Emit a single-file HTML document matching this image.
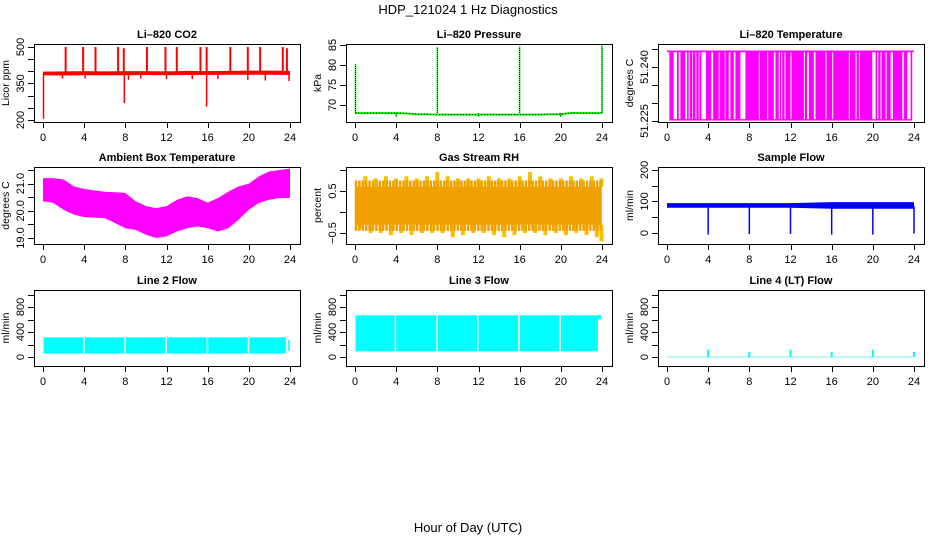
<!DOCTYPE html>
<html><head><meta charset="utf-8"><style>
html,body{margin:0;padding:0;background:#fff;}
svg{display:block;font-family:"Liberation Sans",sans-serif;}
</style></head><body>
<svg id="fig" width="936" height="540" viewBox="0 0 936 540" xmlns="http://www.w3.org/2000/svg">
<rect width="936" height="540" fill="#fff"/>
<text x="468" y="14" font-size="13" text-anchor="middle">HDP_121024  1 Hz Diagnostics</text>
<text x="468" y="532" font-size="13" text-anchor="middle">Hour of Day (UTC)</text>
</svg>
<script>
// ---------- data ----------
const xTicks = [0,4,8,12,16,20,24];
// CO2
const co2BaseT = [0,2,4,6,8,10,12,14,16,18,20,22,24];
const co2BaseLo = [384,383,384,384,384,385,384,385,385,386,386,386,385];
const co2BaseHi = [399,400,401,400,401,401,400,402,401,402,403,403,402];
const co2UpT = [2.2,3.9,5.1,7.3,7.85,10.1,11.9,13.0,15.3,15.9,18.2,19.9,21.1,23.3,23.7];
const co2UpV = [500,500,500,500,495,500,500,500,500,500,500,500,500,500,495];
const co2DnT = [0.05,7.9,15.9,1.9,4.1,8.3,9.5,12.0,14.5,17.0,19.9,21.6,23.9];
const co2DnV = [205,270,255,370,370,365,370,368,368,368,365,362,360];
// Pressure
const presT = [0,1,2,3,4,5,6,7,8,9,10,11,12,13,14,15,16,17,18,19,20,21,22,23,24];
const presV = [68,68,68,68,68,67.9,67.7,67.7,67.6,67.6,67.6,67.6,67.6,67.6,67.6,67.6,67.6,67.6,67.6,67.7,67.7,68,68,68,68];
const presSpT = [0.05,8.0,16.0,24.0,4.0,12.0,20.0];
const presSpV = [80.2,84.5,84.6,84.8,67.0,67.0,67.0];
// Li-820 temperature
const ltHi = 51.2444, ltLo = 51.2251;
const ltStart = 0.23, ltEnd = 23.83;
const ltGapStart = [0.65,1.14,1.78,2.11,2.43,2.76,3.08,3.34,4.31,5.03,5.61,6.0,6.49,7.13,8.92,9.73,10.38,10.86,11.09,11.42,12.0,13.3,13.62,14.27,15.4,16.05,17.67,18.32,18.65,19.94,20.43,20.75,21.24,21.73,22.86,23.35];
const ltGapEnd   = [0.97,1.30,1.95,2.21,2.50,2.85,3.15,3.79,4.48,5.12,5.68,6.16,6.65,7.62,9.02,9.83,10.54,10.96,11.19,11.51,12.1,13.4,13.78,14.43,15.5,16.15,17.77,18.42,18.74,20.27,20.53,20.85,21.34,21.95,23.03,23.67];
// Ambient box temperature
const ambT = [0,1,2,3,4,5,6,7,8,9,10,11,12,13,14,15,16,17,18,19,20,21,22,23,24];
const ambHi = [21.2,21.2,21.15,20.9,20.8,20.75,20.7,20.68,20.66,20.35,20.17,20.1,20.17,20.4,20.53,20.47,20.3,20.47,20.7,20.9,21.0,21.27,21.45,21.5,21.55];
const ambLo = [20.35,20.29,20.04,19.86,19.77,19.75,19.73,19.55,19.36,19.3,19.12,19.0,19.06,19.24,19.36,19.43,19.36,19.24,19.36,19.67,20.04,20.29,20.41,20.47,20.47];
// Gas stream RH
const rhT = [0,1,2,3,4,5,6,7,8,9,10,11,12,13,14,15,16,17,18,19,20,21,22,23,24];
const rhHi = [0.6,0.85,0.8,0.85,0.8,0.85,0.8,0.85,0.95,0.85,0.8,0.8,0.8,0.85,0.8,0.8,0.85,0.95,0.85,0.8,0.8,0.85,0.8,0.85,0.8];
const rhLo = [-0.4,-0.5,-0.5,-0.55,-0.5,-0.55,-0.5,-0.5,-0.5,-0.6,-0.55,-0.5,-0.5,-0.55,-0.6,-0.55,-0.5,-0.5,-0.55,-0.5,-0.55,-0.5,-0.55,-0.6,-0.7];
const rhBandHi = 0.6, rhBandLo = -0.3;
// Sample flow
const sfT = [0,4,8,12,16,20,24];
const sfHi = [95,95,95,95,98,98,98];
const sfLo = [80,80,80,80,77,77,77];
const sfDropT = [4,8,12,16,20,24];
const sfDropV = [-5,-3,-3,-5,-5,-2];
// Line flows
const l2Segs = [0.05,3.9,4.05,7.9,8.05,11.9,12.05,15.9,16.05,19.9,20.05,23.6];
const l2Hi = 315, l2Lo = 55;
const l3Segs = [0.05,3.85,4.0,7.9,8.05,11.85,12.0,15.85,16.0,19.85,20.0,23.6];
const l3Hi = 667, l3Lo = 91;
const l4SpT = [4,8,12,16,20,24];
const l4SpV = [120,80,120,80,120,80];

// ---------- layout ----------
const svg = document.getElementById('fig');
const NS = 'http://www.w3.org/2000/svg';
function el(tag, attrs, parent){
  const e = document.createElementNS(NS, tag);
  for (const k in attrs) e.setAttribute(k, attrs[k]);
  (parent||svg).appendChild(e);
  return e;
}
const colX = [34,346,658];
const rowTop = [44,167,290];
const rowBot = [122,244,366];

function makePanel(name, col, row, title, ylab, ylim, yTicks, yLabels){
  const x0 = colX[col], x1 = x0 + 266, y0 = rowTop[row], y1 = rowBot[row];
  const g = el('g', {});
  
  
  const xs = h => x0 + 9 + h / 24 * 247;
  const ys = v => y1 - (v - ylim[0]) / (ylim[1] - ylim[0]) * (y1 - y0);
  const t = el('text', {x: (x0+x1)/2, y: y0 - 6, 'font-size': 11, 'font-weight': 'bold', 'text-anchor': 'middle'}, g);
  t.textContent = title;
  
  
  const yl = el('text', {transform: `translate(${x0-25},${(y0+y1)/2}) rotate(-90)`, 'font-size': 10.5, 'text-anchor': 'middle'}, g);
  yl.textContent = ylab;
  
  
  const plot = el('g', {}, g);
  
  
  const ax = el('g', {stroke: '#000', 'stroke-width': 1, fill: 'none'}, g);
  
  
  el('rect', {x: x0+0.5, y: y0+0.5, width: x1-x0, height: y1-y0}, ax);
  el('line', {x1: xs(xTicks[0]), x2: xs(xTicks[xTicks.length-1]), y1: y1+0.5, y2: y1+0.5}, ax);
  xTicks.forEach(h => {
    el('line', {x1: Math.round(xs(h))+0.5, x2: Math.round(xs(h))+0.5, y1: y1, y2: y1+6}, ax);
    const l = el('text', {x: xs(h), y: y1+19, 'font-size': 11, 'text-anchor': 'middle', fill: '#000', stroke: 'none'}, g);
    l.textContent = h;
    
    
  });
  const yx = x0 + 0.5;
  el('line', {x1: yx, x2: yx, y1: ys(yTicks[0]), y2: ys(yTicks[yTicks.length-1])}, ax);
  yTicks.forEach((v, i) => {
    const yy = Math.round(ys(v)) + 0.5;
    el('line', {x1: x0-6, x2: x0, y1: yy, y2: yy}, ax);
    if (yLabels[i] !== '') {
      const l = el('text', {transform: `translate(${x0-10},${ys(v)}) rotate(-90)`, 'font-size': 11, 'text-anchor': 'middle', fill: '#000', stroke: 'none'}, g);
      l.textContent = yLabels[i];
      
      
    }
  });
  return {plot, xs, ys};
}
function vline(p, h, v1, v2, color, w){
  el('line', {x1: p.xs(h), x2: p.xs(h), y1: p.ys(v1), y2: p.ys(v2), stroke: color, 'stroke-width': w||1.5}, p.plot);
}
function band(p, ta, tb, lo, hi, color){
  el('rect', {x: p.xs(ta), y: p.ys(hi), width: Math.max(0.5, p.xs(tb)-p.xs(ta)), height: Math.max(0.5, p.ys(lo)-p.ys(hi)), fill: color}, p.plot);
}
function envelope(p, T, lo, hi, color){
  let d = '';
  T.forEach((t,i)=>{ d += (i?'L':'M') + p.xs(t) + ',' + p.ys(hi[i]); });
  for (let i=T.length-1;i>=0;i--) d += 'L' + p.xs(T[i]) + ',' + p.ys(lo[i]);
  el('path', {d: d+'Z', fill: color}, p.plot);
}

// CO2
{
  const p = makePanel('co2', 0, 0, 'Li\u2013820 CO2', 'Licor ppm', [191.8,512.3],
    [200,250,300,350,400,450,500], ['200','','','350','','','500']);
  envelope(p, co2BaseT, co2BaseLo, co2BaseHi, '#f00');
  co2UpT.forEach((t,i)=>vline(p, t, 392, co2UpV[i], '#f00', 2));
  co2DnT.forEach((t,i)=>vline(p, t, 392, co2DnV[i], '#f00', 1.5));
}
// Pressure
{
  const p = makePanel('pressure', 1, 0, 'Li\u2013820 Pressure', 'kPa', [65.75,85.25],
    [70,75,80,85], ['70','75','80','85']);
  let d='';
  presT.forEach((t,i)=>{ d += (i?'L':'M') + p.xs(t) + ',' + p.ys(presV[i]); });
  el('path', {d, fill:'none', stroke:'#0f0', 'stroke-width':2}, p.plot);
  el('path', {d, fill:'none', stroke:'#000', 'stroke-width':1, 'stroke-dasharray':'1,2'}, p.plot);
  presSpT.forEach((t,i)=>{
    vline(p, t, 68, presSpV[i], '#0f0', 1.5);
    el('line', {x1:p.xs(t), x2:p.xs(t), y1:p.ys(68), y2:p.ys(presSpV[i]), stroke:'#000', 'stroke-width':0.8, 'stroke-dasharray':'1,1'}, p.plot);
  });
}
// Li-820 Temperature
{
  const p = makePanel('li820-temp', 2, 0, 'Li\u2013820 Temperature', 'degrees C', [51.2247,51.2464],
    [51.225,51.230,51.235,51.240,51.245], ['51.225','','','51.240','']);
  band(p, ltStart, ltEnd, ltLo, ltHi, '#f0f');
  ltGapStart.forEach((s,i)=>band(p, s, ltGapEnd[i], ltLo+0.0004, ltHi-0.0003, '#fff'));
  el('line', {x1:p.xs(0), x2:p.xs(24), y1:p.ys(ltHi), y2:p.ys(ltHi), stroke:'#f0f', 'stroke-width':1.5}, p.plot);
}
// Ambient
{
  const p = makePanel('ambient-temp', 0, 1, 'Ambient Box Temperature', 'degrees C', [18.78,21.61],
    [19.0,19.5,20.0,20.5,21.0,21.5], ['19.0','','20.0','','21.0','']);
  envelope(p, ambT, ambLo, ambHi, '#f0f');
}
// RH
{
  const p = makePanel('gas-rh', 1, 1, 'Gas Stream RH', 'percent', [-0.762,1.071],
    [-0.5,0,0.5,1.0], ['\u22120.5','','0.5','']);
  band(p, 0.05, 23.95, rhBandLo, rhBandHi, '#f0a000');
  rhT.forEach((t,i)=>{
    vline(p, Math.min(23.95,Math.max(0.05,t)), rhBandHi, rhHi[i], '#f5c000', 4);
    vline(p, Math.min(23.95,Math.max(0.05,t+0.5)), rhBandLo, rhLo[i], '#f5c000', 4);
  });
  for (let h=0.1; h<24; h+=0.33) vline(p, h, rhBandLo-0.15, rhBandHi+0.15, '#f0a000', 2.5);
}
// Sample flow
{
  const p = makePanel('sample-flow', 2, 1, 'Sample Flow', 'ml/min', [-34.9,209.5],
    [0,50,100,150,200], ['0','','100','','200']);
  envelope(p, sfT, sfLo, sfHi, '#00f');
  sfDropT.forEach((t,i)=>vline(p, t, 85, sfDropV[i], '#00f', 1.5));
}
// Line 2
{
  const p = makePanel('line2-flow', 0, 2, 'Line 2 Flow', 'ml/min', [-144,1072],
    [0,200,400,600,800,1000], ['0','','400','','800','']);
  for (let i=0;i<l2Segs.length;i+=2) band(p, l2Segs[i], l2Segs[i+1], l2Lo, l2Hi, '#0ff');
  vline(p, 23.9, l2Lo+40, l2Hi-40, '#0ff', 1.5);
}
// Line 3
{
  const p = makePanel('line3-flow', 1, 2, 'Line 3 Flow', 'ml/min', [-144,1072],
    [0,200,400,600,800,1000], ['0','','400','','800','']);
  for (let i=0;i<l3Segs.length;i+=2) band(p, l3Segs[i], l3Segs[i+1], l3Lo, l3Hi, '#0ff');
  band(p, 23.6, 23.95, 600, l3Hi, '#0ff');
}
// Line 4
{
  const p = makePanel('line4-flow', 2, 2, 'Line 4 (LT) Flow', 'ml/min', [-144,1072],
    [0,200,400,600,800,1000], ['0','','400','','800','']);
  el('line', {x1:p.xs(0), x2:p.xs(24), y1:p.ys(0), y2:p.ys(0), stroke:'#9ee', 'stroke-width':1.2}, p.plot);
  l4SpT.forEach((t,i)=>vline(p, t, 0, l4SpV[i], '#0ff', 2));
}
</script>
</body></html>
